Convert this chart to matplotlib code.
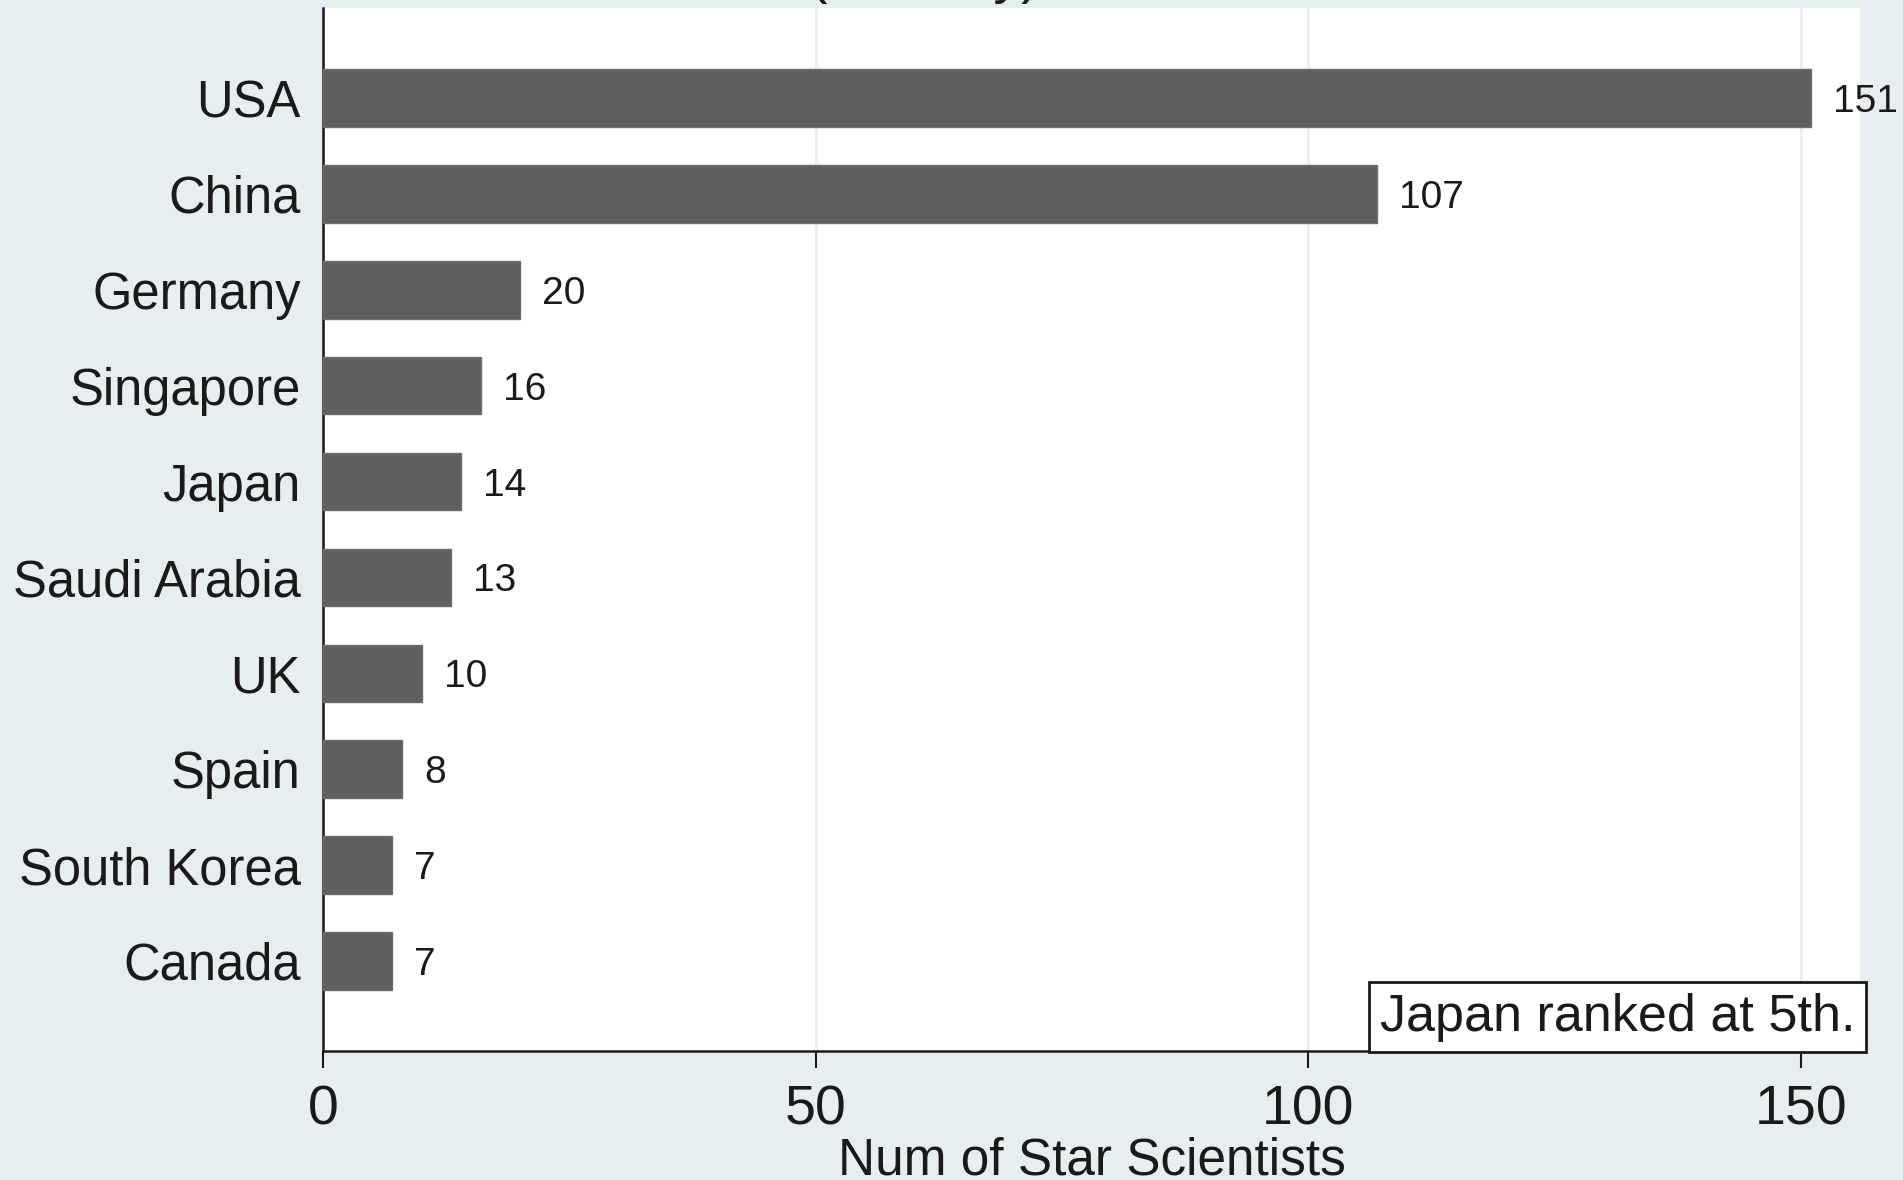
import matplotlib.pyplot as plt

countries = ["USA", "China", "Germany", "Singapore", "Japan",
             "Saudi Arabia", "UK", "Spain", "South Korea", "Canada"]
counts = [151, 107, 20, 16, 14, 13, 10, 8, 7, 7]
xticks = [0, 50, 100, 150]

bg = "#e7eef0"
plt.rcParams['font.family'] = ['Liberation Sans', 'DejaVu Sans']

fig = plt.figure(figsize=(19.03, 11.8), dpi=100, facecolor=bg)
ax = fig.add_axes([323 / 1903, 1 - 1051 / 1180, (1860 - 323) / 1903, (1051 - 8) / 1180])
ax.set_facecolor("white")

pos = list(range(len(countries)))
ax.barh(pos, counts, height=0.6, color="#5f5f5f", edgecolor="#6e6e6e", linewidth=1, zorder=3)
for p, v in zip(pos, counts):
    ax.annotate(str(v), (v, p), xytext=(16, 0), textcoords="offset points",
                va="center_baseline", ha="left", fontsize=28, color="#1a1a1a")

ax.set_ylim(9.94, -0.94)
ax.set_xlim(0, 156)
ax.set_yticks(pos)
ax.set_yticklabels(countries, fontsize=36.5, color="#1a1a1a")
ax.set_xticks(xticks)
ax.set_xticklabels([str(t) for t in xticks], fontsize=40, color="#1a1a1a")
ax.tick_params(axis="y", length=0, pad=16)
ax.tick_params(axis="x", length=12, width=1.5, pad=12, color="#1a1a1a")
ax.grid(axis="x", color="#eaf1f3", linewidth=2, zorder=0)
ax.set_axisbelow(True)

for s in ["top", "right"]:
    ax.spines[s].set_visible(False)
ax.spines["left"].set_linewidth(1.8)
ax.spines["bottom"].set_linewidth(1.8)
ax.spines["left"].set_color("#1a1a1a")
ax.spines["bottom"].set_color("#1a1a1a")

ax.set_xlabel("Num of Star Scientists", fontsize=37, color="#1a1a1a", labelpad=0)

ax.text(0.997, 0.009, "Japan ranked at 5th.", transform=ax.transAxes,
        ha="right", va="bottom", fontsize=37.5, color="#1a1a1a", zorder=5,
        bbox=dict(boxstyle="square,pad=0.2", facecolor="white", edgecolor="#1a1a1a", linewidth=2))

# title mostly cut off at the top of the picture
fig.text(924 / 1903, 1 + 8 / 1180, "(Country)", ha="center", va="baseline",
         fontsize=40, color="#1a1a1a")

fig.savefig("out.png", dpi=100, facecolor=bg)
